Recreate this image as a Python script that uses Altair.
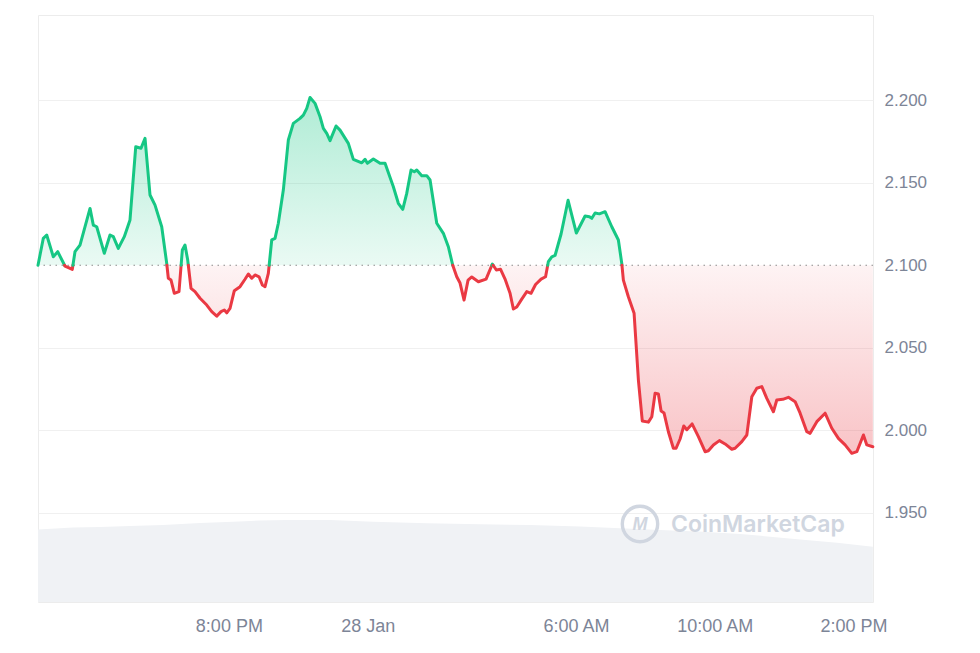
import altair as alt
import pandas as pd

# ---- data (hours since 14:30, 27 Jan) ----
hours = [0.000, 0.153, 0.251, 0.441, 0.568, 0.778, 0.988, 1.066, 1.210, 1.499,
         1.594, 1.692, 1.911, 2.075, 2.170, 2.314, 2.487, 2.651, 2.816, 2.968,
         3.084, 3.228, 3.372, 3.565, 3.709, 3.755, 3.833, 3.928, 4.063, 4.159,
         4.236, 4.314, 4.409, 4.524, 4.669, 4.862, 5.006, 5.150, 5.274, 5.369,
         5.438, 5.533, 5.657, 5.821, 5.965, 6.061, 6.159, 6.254, 6.369, 6.464,
         6.542, 6.637, 6.735, 6.830, 6.925, 7.069, 7.213, 7.357, 7.550, 7.646,
         7.744, 7.839, 7.983, 8.127, 8.222, 8.320, 8.415, 8.588, 8.703, 8.942,
         9.086, 9.329, 9.424, 9.490, 9.663, 9.856, 10.000, 10.239, 10.383, 10.510,
         10.625, 10.749, 10.844, 10.914, 11.058, 11.202, 11.297, 11.490, 11.680, 11.824,
         11.951, 12.066, 12.161, 12.277, 12.392, 12.499, 12.689, 12.911, 13.092, 13.207,
         13.329, 13.458, 13.602, 13.697, 13.795, 13.939, 14.084, 14.207, 14.337, 14.496,
         14.625, 14.706, 14.804, 14.899, 15.072, 15.274, 15.513, 15.764, 15.888, 15.957,
         16.052, 16.176, 16.340, 16.533, 16.723, 16.821, 16.867, 17.011, 17.176, 17.300,
         17.412, 17.588, 17.686, 17.781, 17.876, 17.954, 18.040, 18.164, 18.308, 18.386,
         18.501, 18.608, 18.695, 18.847, 19.029, 19.222, 19.317, 19.461, 19.634, 19.798,
         19.991, 20.086, 20.280, 20.424, 20.568, 20.712, 20.856, 21.000, 21.190, 21.288,
         21.461, 21.622, 21.816, 21.960, 22.153, 22.248, 22.441, 22.680, 22.873, 23.063,
         23.256, 23.449, 23.594, 23.784, 23.882, 24.055]

prices = [2.1000, 2.1163, 2.1183, 2.1051, 2.1082, 2.0995, 2.0975, 2.1082, 2.1122, 2.1344,
          2.1243, 2.1233, 2.1072, 2.1183, 2.1173, 2.1102, 2.1173, 2.1274, 2.1717, 2.1708,
          2.1768, 2.1425, 2.1364, 2.1233, 2.1011, 2.0921, 2.0910, 2.0830, 2.0840, 2.1092,
          2.1122, 2.1031, 2.0860, 2.0840, 2.0800, 2.0759, 2.0719, 2.0692, 2.0719, 2.0729,
          2.0712, 2.0739, 2.0846, 2.0870, 2.0915, 2.0947, 2.0921, 2.0941, 2.0930, 2.0880,
          2.0870, 2.0951, 2.1153, 2.1163, 2.1254, 2.1455, 2.1758, 2.1859, 2.1889, 2.1909,
          2.1950, 2.2016, 2.1980, 2.1899, 2.1829, 2.1798, 2.1754, 2.1843, 2.1818, 2.1738,
          2.1641, 2.1620, 2.1641, 2.1617, 2.1643, 2.1617, 2.1617, 2.1475, 2.1375, 2.1338,
          2.1435, 2.1576, 2.1566, 2.1576, 2.1542, 2.1542, 2.1516, 2.1254, 2.1193, 2.1112,
          2.1000, 2.0930, 2.0892, 2.0789, 2.0910, 2.0929, 2.0900, 2.0916, 2.1007, 2.0971,
          2.0975, 2.0916, 2.0830, 2.0735, 2.0747, 2.0795, 2.0840, 2.0830, 2.0883, 2.0916,
          2.0930, 2.1022, 2.1051, 2.1059, 2.1189, 2.1393, 2.1195, 2.1298, 2.1294, 2.1284,
          2.1316, 2.1311, 2.1324, 2.1233, 2.1153, 2.1011, 2.0910, 2.0809, 2.0709, 2.0305,
          2.0057, 2.0050, 2.0083, 2.0225, 2.0220, 2.0117, 2.0105, 1.9992, 1.9892, 1.9892,
          1.9948, 2.0027, 2.0004, 2.0039, 1.9962, 1.9871, 1.9877, 1.9912, 1.9938, 1.9918,
          1.9886, 1.9892, 1.9932, 1.9972, 2.0204, 2.0255, 2.0265, 2.0194, 2.0113, 2.0184,
          2.0188, 2.0200, 2.0174, 2.0104, 1.9992, 1.9982, 2.0053, 2.0104, 2.0013, 1.9952,
          1.9912, 1.9861, 1.9871, 1.9972, 1.9912, 1.9901]

vol_hours = [0.000, 1.009, 1.787, 2.651, 3.602, 4.669, 5.620, 6.398, 7.176, 8.415,
             9.654, 11.210, 12.738, 14.179, 15.620, 16.772, 17.925, 19.164, 20.231, 21.095,
             21.960, 23.026, 24.055]
vol_musd = [870, 894, 900, 912, 924, 948, 964, 978, 984, 984,
            964, 944, 932, 924, 906, 884, 864, 844, 816, 784,
            750, 712, 664]

base_price = 2.100
tick_hours = [5.5, 9.5, 15.5, 19.5, 23.5]
tick_labels = ["8:00 PM", "28 Jan", "6:00 AM", "10:00 AM", "2:00 PM"]
y_ticks = [1.95, 2.0, 2.05, 2.1, 2.15, 2.2]

GREEN = "#16c784"
RED = "#ea3943"
LABEL = "#7d8597"
FONT = "Liberation Sans"

# ---- insert baseline crossings so colours switch exactly at 2.100 ----
pts = []
for i in range(len(hours)):
    if i > 0:
        h0, p0 = hours[i - 1], prices[i - 1]
        h1, p1 = hours[i], prices[i]
        if (p0 - base_price) * (p1 - base_price) < 0:
            t = (base_price - p0) / (p1 - p0)
            pts.append((h0 + t * (h1 - h0), base_price))
    pts.append((hours[i], prices[i]))

rows = []
run = 0
prev = None
for j in range(len(pts) - 1):
    (ha, pa), (hb, pb) = pts[j], pts[j + 1]
    sign = "up" if (pa + pb) / 2 >= base_price else "down"
    if sign != prev:
        run += 1
        rows.append({"h": ha, "p": pa, "run": run, "sign": sign})
        prev = sign
    rows.append({"h": hb, "p": pb, "run": run, "sign": sign})
line_df = pd.DataFrame(rows)

area_df = pd.DataFrame({
    "h": [p[0] for p in pts],
    "up": [max(p[1], base_price) for p in pts],
    "dn": [min(p[1], base_price) for p in pts],
    "base": [base_price] * len(pts),
})
vol_df = pd.DataFrame({"h": vol_hours, "v": vol_musd})
base_df = pd.DataFrame({"b": [base_price]})
one = pd.DataFrame({"a": [0]})

label_expr = ""
for hv, lab in zip(tick_hours, tick_labels):
    label_expr += f"datum.value == {hv} ? '{lab}' : "
label_expr += "''"

xscale = alt.Scale(domain=[0, 24.06], nice=False, zero=False)
yscale = alt.Scale(domain=[1.8961, 2.2515], nice=False, zero=False)

X = alt.X("h:Q", scale=xscale,
          axis=alt.Axis(values=tick_hours, labelExpr=label_expr, title=None,
                        grid=False, domain=False, ticks=False, labelPadding=15,
                        labelFontSize=18, labelColor=LABEL, labelFont=FONT))

vol = alt.Chart(vol_df).mark_area(color="#f0f2f5").encode(
    x=X,
    y=alt.Y("v:Q", scale=alt.Scale(domain=[0, 7044], nice=False), axis=None),
)

green_grad = alt.Gradient(
    gradient="linear",
    stops=[alt.GradientStop(color="rgba(22,199,132,0.34)", offset=0),
           alt.GradientStop(color="rgba(22,199,132,0.09)", offset=1)],
    x1=0, x2=0, y1=0, y2=1)
red_grad = alt.Gradient(
    gradient="linear",
    stops=[alt.GradientStop(color="rgba(234,57,67,0.06)", offset=0),
           alt.GradientStop(color="rgba(234,57,67,0.30)", offset=1)],
    x1=0, x2=0, y1=0, y2=1)

green_area = alt.Chart(area_df).mark_area(color=green_grad).encode(
    x=X,
    y=alt.Y("up:Q", scale=yscale,
            axis=alt.Axis(orient="right", values=y_ticks, format=".3f", title=None,
                          domain=False, ticks=False, labelPadding=11,
                          labelFontSize=17, labelColor=LABEL, labelFont=FONT,
                          grid=True,
                          gridColor={"condition": {"test": "datum.value == 2.1",
                                                   "value": "transparent"},
                                     "value": "#f0f0f0"})),
    y2="base:Q",
)
red_area = alt.Chart(area_df).mark_area(color=red_grad).encode(
    x=X, y=alt.Y("dn:Q", scale=yscale), y2="base:Q")

rule = alt.Chart(base_df).mark_rule(color="#8c8c8c", strokeDash=[1.5, 4.5],
                                    strokeWidth=1.2).encode(
    y=alt.Y("b:Q", scale=yscale))

line = alt.Chart(line_df).mark_line(strokeWidth=3, strokeJoin="round",
                                    strokeCap="round").encode(
    x=X,
    y=alt.Y("p:Q", scale=yscale),
    detail="run:N",
    color=alt.Color("sign:N", scale=alt.Scale(domain=["up", "down"],
                                              range=[GREEN, RED]), legend=None),
)

price = alt.layer(green_area, red_area, rule, line)

WM = "#d0d6e0"
wm_circle = alt.Chart(one).mark_point(shape="circle", filled=False, size=1250,
                                      strokeWidth=3.4, color=WM, opacity=1).encode(
    x=alt.value(602), y=alt.value(509))
wm_m = alt.Chart(one).mark_text(text="M", font=FONT, fontSize=18, fontWeight="bold",
                                fontStyle="italic", color=WM).encode(
    x=alt.value(602), y=alt.value(510))
wm_text = alt.Chart(one).mark_text(text="CoinMarketCap", font="Inter", fontSize=23,
                                   fontWeight=600, align="left", baseline="middle",
                                   color=WM).encode(
    x=alt.value(633), y=alt.value(510))

chart = alt.layer(vol, price, wm_circle, wm_m, wm_text).resolve_scale(
    y="independent"
).properties(
    width=835, height=587,
    padding={"left": 28, "top": 7, "right": 5, "bottom": 5},
    background="white",
).configure_view(stroke="#ececec", strokeWidth=1)

chart.save("out.html", embed_options={"renderer": "svg", "actions": False})
